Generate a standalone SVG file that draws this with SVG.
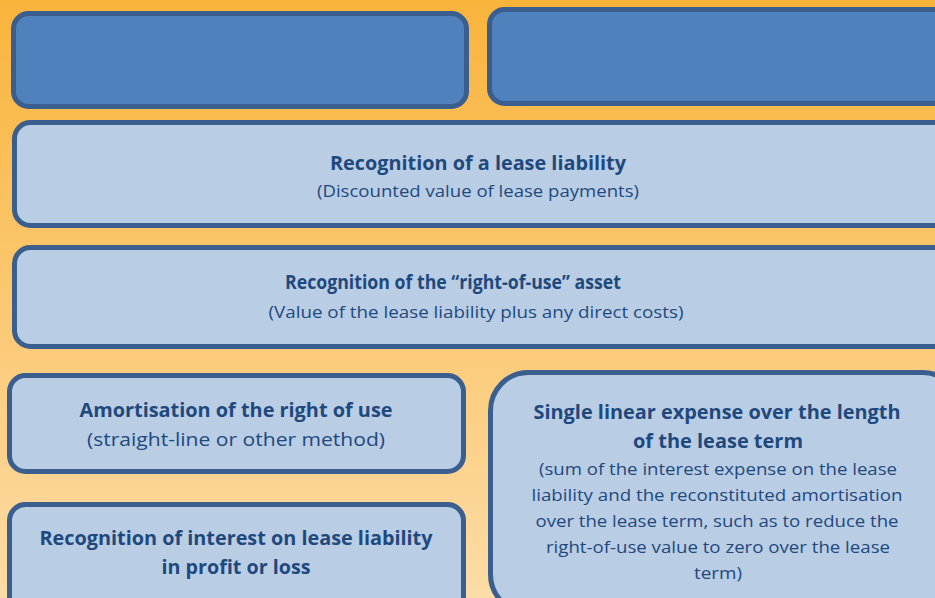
<svg xmlns="http://www.w3.org/2000/svg" width="935" height="598" viewBox="0 0 935 598">
<defs>
<linearGradient id="bg" x1="0" y1="0" x2="0" y2="1">
<stop offset="0" stop-color="#F9B43C"/>
<stop offset="1" stop-color="#FDDCA6"/>
</linearGradient>
<style>
.dark{fill:#4F81BD;stroke:#3A5E8E;stroke-width:5}
.light{fill:#B9CDE5;stroke:#3A5E8E;stroke-width:5}
text{font-family:"Open Sans","Noto Sans",sans-serif;fill:#1F497D;text-anchor:middle}
.b{font-weight:bold;font-size:19px}
.r{font-size:18px}
.s{font-size:17px}
</style>
</defs>
<rect x="0" y="0" width="935" height="598" fill="url(#bg)"/>
<g id="node-top-left"><rect class="dark" x="13.5" y="13.5" width="453" height="93" rx="15"/></g>
<g id="node-top-right"><rect class="dark" x="489.5" y="9.5" width="470" height="94" rx="15"/></g>
<g id="node-lease-liability">
<rect class="light" x="14.5" y="122.5" width="940" height="103" rx="16"/>
<text class="b" x="478" y="170" textLength="296" lengthAdjust="spacingAndGlyphs">Recognition of a lease liability</text>
<text class="s" x="478" y="197" textLength="322" lengthAdjust="spacingAndGlyphs">(Discounted value of lease payments)</text>
</g>
<g id="node-rou-asset">
<rect class="light" x="14.5" y="247.5" width="940" height="99" rx="16"/>
<text class="b" x="453" y="289" textLength="336" lengthAdjust="spacingAndGlyphs">Recognition of the “right-of-use” asset</text>
<text class="s" x="476" y="318" textLength="415" lengthAdjust="spacingAndGlyphs">(Value of the lease liability plus any direct costs)</text>
</g>
<g id="node-amortisation">
<rect class="light" x="9.5" y="375.5" width="454" height="96" rx="16"/>
<text class="b" x="236" y="417" textLength="313" lengthAdjust="spacingAndGlyphs">Amortisation of the right of use</text>
<text class="r" x="236" y="446" textLength="298" lengthAdjust="spacingAndGlyphs">(straight-line or other method)</text>
</g>
<g id="node-interest">
<rect class="light" x="9.5" y="504.5" width="454" height="110" rx="16"/>
<text class="b" x="236" y="545" textLength="393" lengthAdjust="spacingAndGlyphs">Recognition of interest on lease liability</text>
<text class="b" x="236" y="574" textLength="149" lengthAdjust="spacingAndGlyphs">in profit or loss</text>
</g>
<g id="node-single-expense">
<rect class="light" x="490.5" y="372.5" width="470" height="240" rx="38"/>
<text class="b" x="717" y="419" textLength="367" lengthAdjust="spacingAndGlyphs">Single linear expense over the length</text>
<text class="b" x="718" y="448" textLength="170" lengthAdjust="spacingAndGlyphs">of the lease term</text>
<text class="s" x="718" y="475" textLength="358" lengthAdjust="spacingAndGlyphs">(sum of the interest expense on the lease</text>
<text class="s" x="717" y="501" textLength="371" lengthAdjust="spacingAndGlyphs">liability and the reconstituted amortisation</text>
<text class="s" x="717" y="527" textLength="363" lengthAdjust="spacingAndGlyphs">over the lease term, such as to reduce the</text>
<text class="s" x="718" y="553" textLength="344" lengthAdjust="spacingAndGlyphs">right-of-use value to zero over the lease</text>
<text class="s" x="718" y="579" textLength="48" lengthAdjust="spacingAndGlyphs">term)</text>
</g>
<g id="connectors"></g>
</svg>
